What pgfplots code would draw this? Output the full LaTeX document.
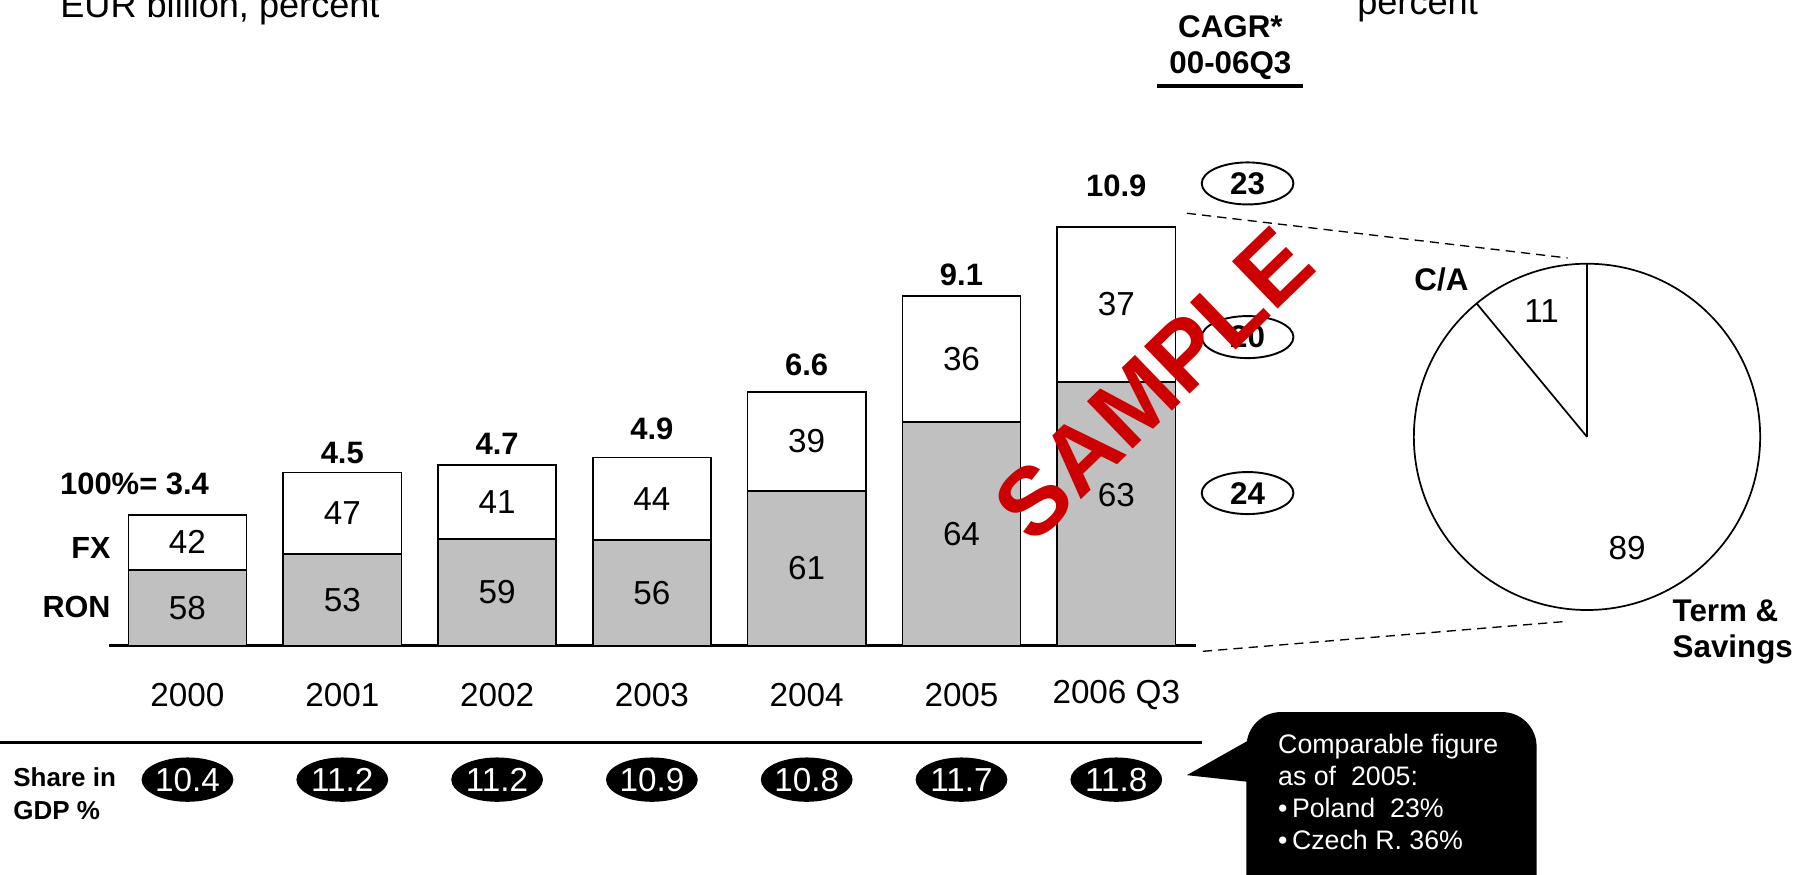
\documentclass[border=0pt]{standalone}
\usepackage{fontspec}
\setmainfont{Liberation Sans}
\usepackage{pgfplots}
\usepackage{pgfplotstable}
\pgfplotsset{compat=1.18}
\usetikzlibrary{shapes.geometric}

\definecolor{ronfill}{HTML}{C0C0C0}
\definecolor{stamp}{HTML}{CC0000}

% Deposits: total in EUR bn, RON/FX split in percent, share in GDP,
% label lift above the bar (data units) and lift of the RON label
\pgfplotstableread{
idx total ron fx gdp lift rl
0 3.4  58 42 10.4 0.81 0
1 4.5  53 47 11.2 0.51 0
2 4.7  59 41 11.2 0.54 0
3 4.9  56 44 10.9 0.75 0
4 6.6  61 39 10.8 0.72 0
5 9.1  64 36 11.7 0.54 0
6 10.9 63 37 11.8 1.07 0.48
}\deposits

% CAGR 2000-2006Q3: total, FX, RON
\pgfplotstableread{
x y cagr
6.848 12.03 23
6.848 8.03 20
6.848 3.97 24
}\cagr

% split of 2006 Q3 deposits: current accounts vs. term & savings
\def\pieCA{11}
\def\pieTS{89}

\newcommand\fs[2]{\fontsize{#1}{#2}\selectfont}

\begin{document}
\begin{tikzpicture}
\path[use as bounding box, clip] (-28.5pt,-60pt) rectangle (441.9pt,168.9pt);
\begin{axis}[
  at={(0pt,0pt)}, anchor=south west,
  x=40.5pt, y=10.05pt,
  xmin=-0.5074, xmax=6.5148, ymin=0, ymax=13,
  clip=false,
  axis x line=bottom, axis y line=none,
  x axis line style={-, line width=0.8pt},
  xtick={0,...,6},
  xticklabels={2000,2001,2002,2003,2004,2005,2006 Q3},
  ytick=\empty,
  major tick length=0pt,
  xticklabel style={anchor=center, yshift=-12.9pt, font=\fs{8.7}{10}},
  /pgf/number format/assume math mode=true,
  every node near coord/.append style={anchor=center},
]
% full bar = 100%, RON share drawn over it
\addplot[ybar, bar width=30.9pt, bar shift=0pt, fill=white, draw=black, line width=0.4pt]
  table[x=idx, y=total] {\deposits};
\addplot[ybar, bar width=30.9pt, bar shift=0pt, fill=ronfill, draw=black, line width=0.4pt]
  table[x=idx, y expr=\thisrow{total}*\thisrow{ron}/100] {\deposits};

% segment labels
\addplot[draw=none, mark=none, nodes near coords, point meta=explicit symbolic,
  every node near coord/.append style={font=\fs{8.7}{10}}]
  table[x=idx, y expr=\thisrow{total}*\thisrow{ron}/200+\thisrow{rl}, meta=ron] {\deposits};
\addplot[draw=none, mark=none, nodes near coords, point meta=explicit symbolic,
  every node near coord/.append style={font=\fs{8.7}{10}}]
  table[x=idx, y expr=\thisrow{total}*(\thisrow{ron}+\thisrow{fx}/2)/100, meta=fx] {\deposits};

% totals above the bars
\addplot[draw=none, mark=none, nodes near coords, point meta=explicit symbolic,
  skip coords between index={0}{1},
  every node near coord/.append style={font=\bfseries\fs{8.1}{10}}]
  table[x=idx, y expr=\thisrow{total}+\thisrow{lift}, meta=total] {\deposits};
\addplot[draw=none, mark=none, point meta=explicit symbolic,
  skip coords between index={1}{7},
  nodes near coords={\llap{100\%=\ }\pgfplotspointmeta},
  every node near coord/.append style={font=\bfseries\fs{8.1}{10}}]
  table[x=idx, y expr=\thisrow{total}+\thisrow{lift}, meta=total] {\deposits};

% share in GDP
\addplot[draw=none, mark=none, nodes near coords, point meta=explicit symbolic,
  every node near coord/.append style={ellipse, fill=black, text=white, inner sep=0pt,
    minimum width=24pt, minimum height=11.6pt, font=\fs{8.7}{10}}]
  table[x=idx, y expr=-3.49, meta=gdp] {\deposits};

% CAGR bubbles
\addplot[draw=none, mark=none, nodes near coords, point meta=explicit symbolic,
  every node near coord/.append style={ellipse, draw=black, fill=white, line width=0.5pt,
    inner sep=0pt, minimum width=24pt, minimum height=11pt, font=\bfseries\fs{8.2}{10}}]
  table[x=x, y=y, meta=cagr] {\cagr};

% pie: deposit structure 2006 Q3
\coordinate (pc) at (axis cs:9.0407,5.4328);
\draw[line width=0.45pt, fill=white] (pc) circle[radius=45.3pt];
\draw[line width=0.45pt] (pc) -- ++(90:45.3pt);
\draw[line width=0.45pt] (pc) -- ++({90+3.6*\pieCA}:45.3pt);
\path (pc) ++({90+1.8*\pieCA}:35pt) node[font=\fs{8.7}{10}] {\pieCA};
\path (pc) ++({90+3.6*\pieCA+1.8*\pieTS}:31pt) node[font=\fs{8.7}{10}] {\pieTS};
\end{axis}

\begin{scope}[x=0.3pt, y=-0.3pt, shift={(-28.5pt,168.9pt)}]
  % headings
  \node[anchor=base west, inner sep=0pt, font=\fs{9.45}{11}] at (52,15) {EUR billion, percent};
  \node[anchor=base west, inner sep=0pt, font=\fs{9.45}{11}] at (1183,13) {percent};
  \node[font=\bfseries\fs{8.2}{10}] at (1073,23) {CAGR*};
  \node[font=\bfseries\fs{8.2}{10}] at (1073,57.5) {00-06Q3};
  \draw[line width=0.8pt] (1009,75) -- (1136,75);
  % series names
  \node[anchor=east, inner sep=0pt, font=\bfseries\fs{8}{10}] at (97,478) {FX};
  \node[anchor=east, inner sep=0pt, font=\bfseries\fs{8}{10}] at (97,529) {RON};
  % pie labels
  \node[font=\bfseries\fs{8.2}{10}] at (1257,244) {C/A};
  \node[anchor=base west, inner sep=0pt, font=\bfseries\fs{8.2}{10}] at (1458,542) {Term \&};
  \node[anchor=base west, inner sep=0pt, font=\bfseries\fs{8.2}{10}] at (1458,573) {Savings};
  % connectors from the last bar to the pie
  \draw[dash pattern=on 2.4pt off 1.6pt, line width=0.35pt] (1035,186) -- (1367,225);
  \draw[dash pattern=on 2.4pt off 1.6pt, line width=0.35pt] (1049,568) -- (1365,542);
  % separator above the GDP row
  \draw[line width=0.8pt] (0,647.5) -- (1048,647.5);
  \node[anchor=base west, inner sep=0pt, font=\bfseries\fs{6.8}{8}] at (11,685.7) {Share in};
  \node[anchor=base west, inner sep=0pt, font=\bfseries\fs{6.8}{8}] at (11,714.5) {GDP \%};
  % callout
  \fill[black, rounded corners=9pt] (1087,621) rectangle (1340,820);
  \fill[black] (1090,645) -- (1035,676) -- (1090,682) -- cycle;
  \begin{scope}[every node/.style={anchor=base west, inner sep=0pt, text=white, font=\fs{7}{8}}]
    \node at (1114,657) {Comparable figure};
    \node at (1114,685) {as of\ \ 2005:};
    \node at (1114,713) {\textbullet\,Poland\ \ 23\%};
    \node at (1114,741) {\textbullet\,Czech R. 36\%};
  \end{scope}
  % watermark
  \node[rotate=44, text=stamp, font=\bfseries\fs{25}{30}] at (1006,335) {SAMPLE};
\end{scope}
\end{tikzpicture}
\end{document}
